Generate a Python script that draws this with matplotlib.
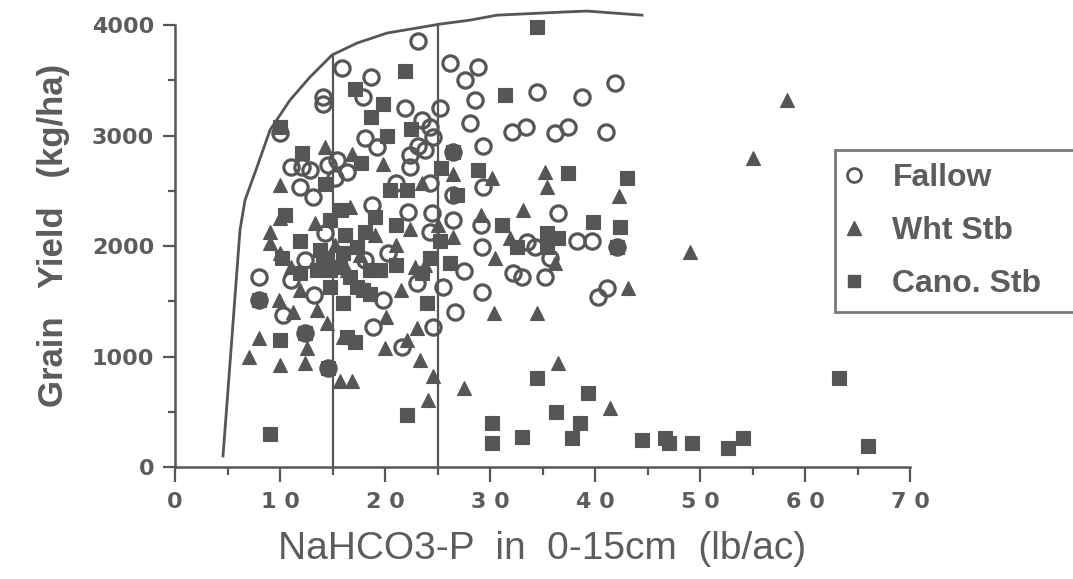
import matplotlib.pyplot as plt
from matplotlib.lines import Line2D
from matplotlib.ticker import MultipleLocator

# Fallow (open circles)
fallow_x = [23.1, 15.9, 18.7, 14.1, 14.1, 17.9, 21.9, 25.2, 26.2, 27.6, 28.9, 28.6,
            10.0, 23.5, 24.3, 28.1, 18.1, 19.2, 24.6, 23.1, 23.8, 22.4, 22.4, 11.0,
            12.1, 12.9, 14.6, 15.4, 16.4, 15.2, 11.9, 13.1, 21.0, 24.3, 18.8, 22.2,
            24.5, 26.5, 26.5, 14.3, 24.3, 12.4, 8.0, 11.0, 13.2, 10.3, 8.0, 12.4,
            14.6, 20.3, 18.1, 19.8, 18.9, 21.6, 23.0, 24.6, 25.5, 26.7, 27.5, 41.9,
            34.5, 38.8, 32.1, 33.4, 36.2, 37.4, 41.0, 29.3, 26.5, 29.3, 36.5, 29.1,
            42.1, 33.5, 34.3, 38.3, 39.7, 29.2, 35.7, 32.2, 33.0, 35.2, 29.2, 40.3,
            41.1]
fallow_y = [3860, 3610, 3530, 3350, 3290, 3350, 3250, 3250, 3660, 3500, 3620, 3320,
            3020, 3140, 3080, 3110, 2980, 2900, 2990, 2910, 2870, 2820, 2720, 2720,
            2720, 2690, 2730, 2780, 2670, 2620, 2530, 2440, 2570, 2570, 2370, 2310,
            2300, 2240, 2460, 2120, 2130, 1870, 1720, 1690, 1560, 1380, 1510, 1210,
            900, 1940, 1870, 1510, 1270, 1090, 1670, 1270, 1630, 1400, 1770, 3480,
            3390, 3350, 3030, 3080, 3020, 3080, 3030, 2910, 2850, 2530, 2300, 2190,
            1990, 2040, 1990, 2050, 2050, 1990, 1890, 1760, 1720, 1720, 1580, 1540,
            1620]

# Wheat stubble (triangles)
wht_x = [14.3, 16.9, 19.8, 26.5, 10.0, 23.5, 16.7, 22.4, 10.0, 9.0, 9.0, 13.3,
         10.0, 11.0, 16.4, 13.5, 9.9, 11.2, 20.1, 21.5, 23.0, 26.5, 8.0, 7.0,
         10.0, 12.4, 12.6, 14.5, 20.0, 22.1, 23.3, 15.7, 16.9, 24.6, 24.1, 27.5,
         22.9, 16.0, 30.2, 35.2, 35.4, 42.3, 33.1, 29.1, 31.9, 30.5, 36.2, 43.1,
         30.4, 34.5, 36.5, 41.4, 55.0, 58.3, 49.0, 17.6, 19.0, 21.0, 25.0, 23.8,
         11.9, 15.2]
wht_y = [2900, 2830, 2740, 2650, 2550, 2570, 2350, 2150, 2250, 2130, 2030, 2210,
         1940, 1810, 1780, 1420, 1510, 1400, 1360, 1600, 1260, 2080, 1170, 1000,
         920, 940, 1080, 1300, 1080, 1150, 970, 780, 780, 820, 610, 715,
         1810, 1180, 2620, 2670, 2530, 2450, 2330, 2280, 2070, 1890, 1850, 1620,
         1390, 1390, 940, 530, 2800, 3320, 1950, 1920, 2100, 2010, 2190, 1830,
         1600, 2010]

# Canola stubble (squares)
cano_x = [21.9, 17.1, 19.8, 18.7, 10.0, 22.5, 20.2, 12.1, 17.7, 25.3, 26.9, 14.3,
          15.8, 14.8, 10.2, 14.1, 14.8, 11.9, 8.0, 10.0, 12.4, 14.6, 9.0, 14.5,
          16.0, 17.3, 14.8, 17.3, 18.6, 16.0, 16.4, 17.1, 22.1, 20.5, 22.1, 19.0,
          15.7, 16.7, 18.6, 19.5, 17.9, 23.5, 24.0, 34.5, 31.4, 26.5, 28.9, 37.4,
          43.0, 31.1, 39.8, 42.4, 42.1, 32.6, 35.4, 36.5, 35.4, 26.2, 34.5, 39.3,
          36.3, 38.6, 30.2, 30.2, 33.0, 37.8, 44.5, 46.7, 47.0, 49.2, 52.7, 54.1,
          63.2, 66.0, 11.9, 16.2, 18.1, 21.0, 24.3, 25.2, 13.5, 21.0, 10.5, 13.8]
cano_y = [3580, 3420, 3290, 3170, 3080, 3060, 3000, 2840, 2750, 2710, 2460, 2560,
          2330, 2240, 1890, 1890, 1780, 1760, 1510, 1150, 1210, 900, 300, 1870,
          1940, 1990, 1630, 1630, 1570, 1480, 1180, 1130, 470, 2510, 2510, 2260,
          1810, 1720, 1780, 1780, 1600, 1760, 1480, 3980, 3370, 2850, 2690, 2660,
          2620, 2190, 2220, 2170, 1990, 1990, 2120, 2070, 1990, 1850, 810, 670,
          500, 400, 400, 220, 270, 260, 240, 260, 220, 220, 170, 260,
          810, 190, 2050, 2100, 2130, 2190, 1890, 2050, 1780, 1830, 2280, 1960]

# hand drawn upper boundary
curve_x = [4.57, 4.76, 5.24, 5.71, 6.19, 6.67, 7.81, 9.05, 10.95, 12.86, 14.95,
           17.33, 20.19, 25.24, 28.1, 30.67, 36.95, 39.24, 44.48]
curve_y = [100, 335, 941, 1539, 2145, 2416, 2715, 3050, 3321, 3530, 3729,
           3837, 3928, 4009, 4045, 4090, 4118, 4127, 4090]

# vertical critical level lines (x, top)
crit_x = [15, 25]
crit_top = [3729, 4009]

x_ticks = list(range(0, 71, 10))
y_ticks = list(range(0, 4001, 1000))

gray = '#565656'
txt = '#5c5c5c'

fig = plt.figure(figsize=(10.73, 5.79), dpi=100)
ax = fig.add_axes([175 / 1073, 112 / 579, 735 / 1073, 464 / 579])

ax.plot(curve_x, curve_y, color=gray, lw=2, clip_on=False)
for xc, top in zip(crit_x, crit_top):
    ax.plot([xc, xc], [0, top], color=gray, lw=1.6)

ax.plot(cano_x, cano_y, ls='none', marker='s', ms=10, mfc=gray, mec=gray, mew=0.8)
ax.plot(wht_x, wht_y, ls='none', marker='^', ms=10.5, mfc=gray, mec=gray, mew=0.8)
ax.plot(fallow_x, fallow_y, ls='none', marker='o', ms=11, mfc='none', mec=gray, mew=2.3)

ax.set_xlim(0, 70)
ax.set_ylim(0, 4200)
ax.spines['top'].set_visible(False)
ax.spines['right'].set_visible(False)
ax.spines['left'].set_bounds(0, 4000)
ax.spines['bottom'].set_bounds(0, 70)
for s in ['left', 'bottom']:
    ax.spines[s].set_color(gray)
    ax.spines[s].set_linewidth(1.8)

# spaced digits on x like the original ("1 0", "2 0", ...)
ax.set_xticks(x_ticks, [' '.join(str(v)) for v in x_ticks],
              fontsize=16, fontweight='bold')
ax.set_yticks(y_ticks, [str(v) for v in y_ticks], fontsize=16, fontweight='bold')
ax.xaxis.set_minor_locator(MultipleLocator(5))
ax.yaxis.set_minor_locator(MultipleLocator(500))
ax.tick_params(axis='both', which='major', colors=gray, width=1.6, labelcolor=txt)
ax.tick_params(axis='both', which='minor', colors=gray, width=1.6)
ax.tick_params(axis='x', which='major', length=11, pad=7)
ax.tick_params(axis='x', which='minor', length=6)
ax.tick_params(axis='y', which='major', length=9, pad=6)
ax.tick_params(axis='y', which='minor', length=5)

ax.set_xlabel('NaHCO3-P  in  0-15cm  (lb/ac)', fontsize=28, color=txt,
              family='Liberation Sans', labelpad=14)
ax.set_ylabel('Grain   Yield   (kg/ha)', fontsize=25, color=txt,
              family='Liberation Sans', fontweight='bold', labelpad=16)

handles = [Line2D([], [], ls='none', marker='o', ms=10, mfc='none', mec=gray, mew=2),
           Line2D([], [], ls='none', marker='^', ms=10, mfc=gray, mec=gray),
           Line2D([], [], ls='none', marker='s', ms=9, mfc=gray, mec=gray)]
leg = fig.legend(handles, ['Fallow', 'Wht Stb', 'Cano. Stb'],
                 loc='upper left', bbox_to_anchor=(835 / 1073, 1 - 150 / 579, 0.25, 0),
                 mode='expand', borderaxespad=0, borderpad=0.4, labelspacing=0.72,
                 handlelength=0.4, handletextpad=1.0, fancybox=False,
                 prop={'family': 'Liberation Sans', 'weight': 'bold', 'size': 23})
leg.get_frame().set_edgecolor(gray)
leg.get_frame().set_linewidth(2)
for t in leg.get_texts():
    t.set_color(txt)

plt.savefig('out.png', dpi=100)
